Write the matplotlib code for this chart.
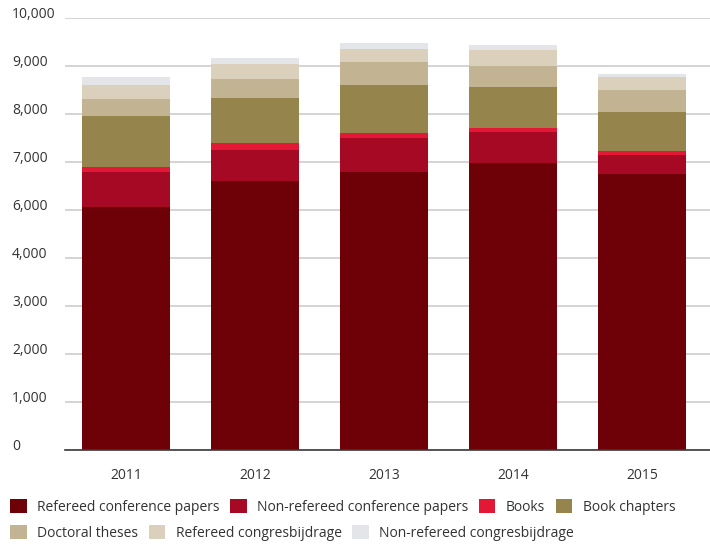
import numpy as np
import matplotlib
matplotlib.use("Agg")
import matplotlib.pyplot as plt
from matplotlib.patches import Patch
from matplotlib.ticker import FixedLocator

plt.rcParams['font.family'] = ['Open Sans', 'DejaVu Sans']

years = ['2011', '2012', '2013', '2014', '2015']
refereed_conf = [6070, 6600, 6790, 6980, 6750]
non_refereed_conf = [720, 650, 710, 645, 395]
books = [105, 145, 105, 85, 85]
book_chapters = [1060, 935, 1000, 855, 815]
doctoral_theses = [355, 395, 480, 435, 460]
refereed_congres = [290, 315, 270, 335, 270]
non_refereed_congres = [170, 125, 125, 105, 60]

series_names = ['Refereed conference papers', 'Non-refereed conference papers', 'Books',
                'Book chapters', 'Doctoral theses', 'Refereed congresbijdrage',
                'Non-refereed congresbijdrage']
series_values = [refereed_conf, non_refereed_conf, books, book_chapters,
                 doctoral_theses, refereed_congres, non_refereed_congres]
colors = ['#6e0008', '#a60924', '#e21836', '#96844d', '#c2b392', '#dbd0bb', '#e4e5e8']

y_ticks = [0, 1000, 2000, 3000, 4000, 6000, 7000, 8000, 9000, 10000]
y_tick_labels = ['0', '1,000', '2,000', '3,000', '4,000', '6,000', '7,000',
                 '8,000', '9,000', '10,000']


# Value axis with the 4,000-6,000 band folded into a single grid step
def fwd(v):
    v = np.asarray(v, dtype=float)
    return np.where(v <= 4000, v, np.where(v >= 6000, v - 1000, 4000 + (v - 4000) / 2))


def inv(u):
    u = np.asarray(u, dtype=float)
    return np.where(u <= 4000, u, np.where(u >= 5000, u + 1000, 4000 + (u - 4000) * 2))


fig = plt.figure(figsize=(7.10, 5.47), dpi=100)
ax = fig.add_axes([65 / 710, 1 - 450 / 547, 645 / 710, 432 / 547])
ax.set_yscale('function', functions=(fwd, inv))

x = np.arange(len(years))
bottom = np.zeros(len(years))
handles = []
for name, vals, col in zip(series_names, series_values, colors):
    ax.bar(x, vals, width=0.68, bottom=bottom, color=col, linewidth=0, zorder=2)
    bottom += np.array(vals)
    handles.append(Patch(facecolor=col, edgecolor='none', label=name))

ax.set_xlim(-0.473, 4.527)
ax.set_ylim(0, 10000)
ax.yaxis.set_major_locator(FixedLocator(y_ticks))
ax.yaxis.set_minor_locator(FixedLocator([]))
ax.set_yticklabels(y_tick_labels, ha='left', va='baseline')
ax.set_xticks(x)
ax.set_xticklabels(years)

ax.tick_params(axis='y', length=0, pad=53 * 0.72, labelsize=10, colors='#333333')
ax.tick_params(axis='x', length=0, pad=13, labelsize=10, colors='#333333')
ax.yaxis.grid(True, color='#d4d4d4', linewidth=1.4, zorder=0)
ax.set_axisbelow(True)

for side in ['top', 'right', 'left']:
    ax.spines[side].set_visible(False)
ax.spines['bottom'].set_color('#3a3a3a')
ax.spines['bottom'].set_linewidth(1.2)
ax.spines['bottom'].set_zorder(3)

leg_kw = dict(frameon=False, loc='center left', borderpad=0, borderaxespad=0,
              handlelength=1.2, handleheight=1.2, handletextpad=0.75,
              columnspacing=0.75, fontsize=10, labelcolor='#333333')
leg1 = fig.legend(handles=handles[:4], ncol=4, bbox_to_anchor=(10 / 710, 1 - 507 / 547),
                  **leg_kw)
leg2 = fig.legend(handles=handles[4:], ncol=3, bbox_to_anchor=(10 / 710, 1 - 533 / 547),
                  **leg_kw)

fig.savefig('out.png', dpi=100)
